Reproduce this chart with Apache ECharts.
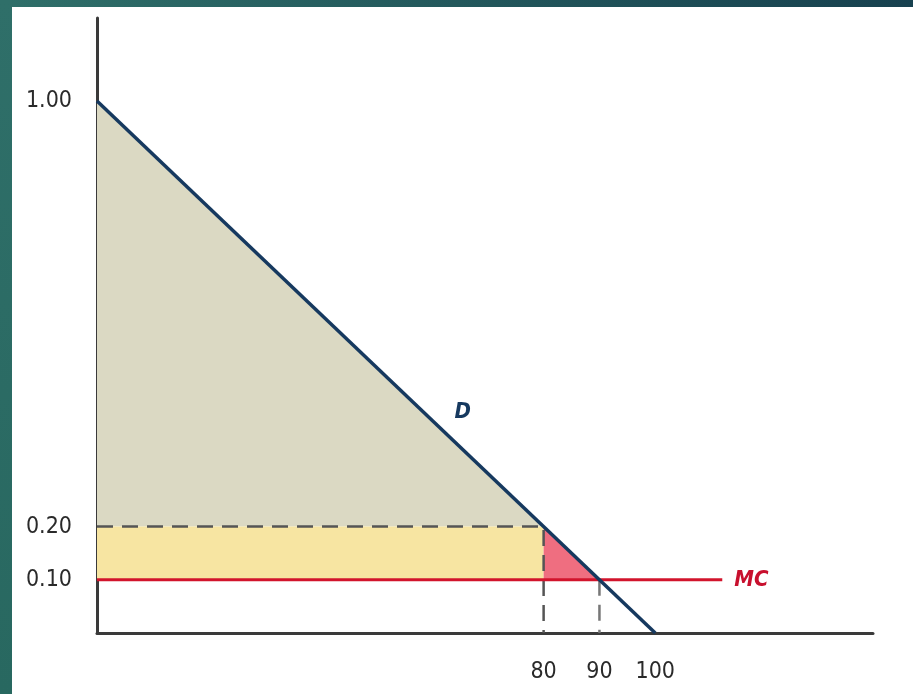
<!DOCTYPE html>
<html><head><meta charset="utf-8">
<script src="https://cdn.jsdelivr.net/npm/echarts@6/dist/echarts.min.js"></script>
<style>html,body{margin:0;padding:0;background:#fff}#c{width:913px;height:694px}</style>
</head><body><div id="c"></div>
<script>
// Data
const demandLine = [[0, 1.00], [100, 0]];
const mcLine = [[0, 0.10], [112, 0.10]];
const consumerSurplus = [[0, 1.00], [80, 0.20], [0, 0.20]];
const yellowRect = [[0, 0.10], [80, 0.10], [80, 0.20], [0, 0.20]];
const deadweight = [[80, 0.20], [80, 0.10], [90, 0.10]];
const dash80 = [[0, 0.20], [80, 0.20], [80, 0]];
const dash90 = [[90, 0.10], [90, 0]];
const yTickLabels = [0.10, 0.20, 1.00];
const xTickLabels = [80, 90, 100];

function polySeries(points, color) {
  return {
    type: 'custom', silent: true, z: 1,
    data: [0],
    renderItem: function (params, api) {
      return { type: 'polygon', shape: { points: points.map(p => api.coord(p)) }, style: { fill: color } };
    }
  };
}

const chart = echarts.init(document.getElementById('c'));
const labelFont = { fontFamily: 'DejaVu Sans Condensed', fontSize: 23, color: '#2a2a2a' };
chart.setOption({
  backgroundColor: '#ffffff',
  animation: false,
  grid: { left: 97, top: 18, right: 40, bottom: 61 },
  xAxis: {
    type: 'value', min: 0, max: 139, interval: 10,
    splitLine: { show: false },
    axisTick: { show: false },
    axisLine: { lineStyle: { color: '#3a3a3a', width: 3 } },
    axisLabel: Object.assign({ margin: 28, showMaxLabel: false,
      formatter: v => xTickLabels.indexOf(v) >= 0 ? String(v) : '' }, labelFont)
  },
  yAxis: {
    type: 'value', min: 0, max: 1.156, interval: 0.1,
    splitLine: { show: false },
    axisTick: { show: false },
    axisLine: { show: true, lineStyle: { color: '#3a3a3a', width: 3 } },
    axisLabel: Object.assign({ margin: 25, showMaxLabel: false,
      formatter: v => yTickLabels.some(t => Math.abs(t - v) < 1e-6) ? v.toFixed(2) : '' }, labelFont)
  },
  graphic: [
    { type: 'rect', shape: { x: 0, y: 0, width: 913, height: 7 }, z: 100,
      style: { fill: new echarts.graphic.LinearGradient(0, 0, 1, 0, [{ offset: 0, color: '#2f6f69' }, { offset: 1, color: '#17414f' }]) } },
    { type: 'rect', shape: { x: 0, y: 0, width: 12, height: 694 }, z: 100,
      style: { fill: new echarts.graphic.LinearGradient(0, 0, 0, 1, [{ offset: 0, color: '#2f6f69' }, { offset: 1, color: '#286860' }]) } }
  ],
  series: [
    polySeries(consumerSurplus, '#dbd9c3'),
    polySeries(yellowRect, '#f7e5a2'),
    polySeries(deadweight, '#ef6e80'),
    { type: 'line', data: dash80, symbol: 'none', z: 3, silent: true,
      lineStyle: { color: '#555', width: 2.5, type: [16, 9] } },
    { type: 'line', data: dash90, symbol: 'none', z: 3, silent: true,
      lineStyle: { color: '#777', width: 2.5, type: [16, 9] } },
    { type: 'line', data: mcLine, symbol: 'none', z: 4, silent: true,
      lineStyle: { color: '#d2142c', width: 3 },
      endLabel: { show: true, formatter: 'MC', distance: 12, fontFamily: 'DejaVu Sans Condensed',
        fontStyle: 'italic', fontWeight: 'bold', fontSize: 22, color: '#c8102e' } },
    { type: 'line', data: demandLine, symbol: 'none', z: 5, silent: true,
      lineStyle: { color: '#16395f', width: 3.5 } },
    { type: 'scatter', data: [[65.5, 0.415]], symbolSize: 0, z: 6, silent: true,
      itemStyle: { opacity: 1 },
      label: { show: true, position: 'inside', formatter: 'D', fontFamily: 'DejaVu Sans Condensed',
        fontStyle: 'italic', fontWeight: 'bold', fontSize: 22, color: '#16395f' } }
  ]
});
</script></body></html>
